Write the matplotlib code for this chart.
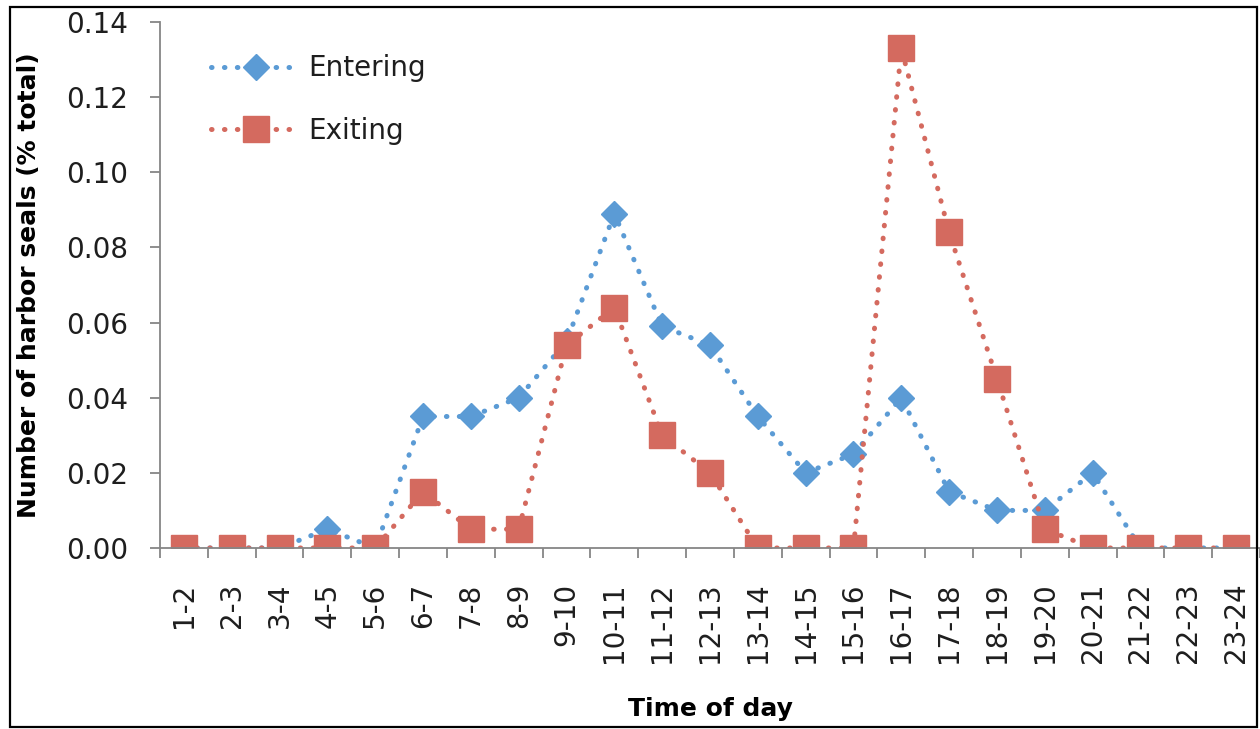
# Harbor seal haul-out activity by hour

# Plot proportion of seals entering and exiting for each hour of the day

import matplotlib
matplotlib.use("Agg")
import matplotlib.pyplot as plt
from matplotlib.patches import Rectangle

# Hour intervals
HOURS = ["1-2", "2-3", "3-4", "4-5", "5-6", "6-7", "7-8", "8-9", "9-10",
         "10-11", "11-12", "12-13", "13-14", "14-15", "15-16", "16-17",
         "17-18", "18-19", "19-20", "20-21", "21-22", "22-23", "23-24"]

# Proportion of seals entering per hour
ENTERING = [0.0, 0.0, 0.0, 0.005, 0.0, 0.035, 0.035, 0.040, 0.055,
            0.089, 0.059, 0.054, 0.035, 0.020, 0.025, 0.040,
            0.015, 0.010, 0.010, 0.020, 0.0, 0.0, 0.0]

# Proportion of seals exiting per hour
EXITING = [0.0, 0.0, 0.0, 0.0, 0.0, 0.015, 0.005, 0.005, 0.054,
           0.064, 0.030, 0.020, 0.0, 0.0, 0.0, 0.133,
           0.084, 0.045, 0.005, 0.0, 0.0, 0.0, 0.0]

BLUE = "#5B9BD5"
RED = "#D46A5F"
GRAY = "#868686"
TEXT = "#1E1E1E"
FONT = "DejaVu Sans"
LW = 3.6
# dot pattern given in points, not scaled by line width
plt.rcParams["lines.scale_dashes"] = False
DOTS = (0, (0.4, 8.9))


# Draw one series: dotted line with markers
def plot_series(ax, values, color, marker, size, label):
    xs = list(range(len(values)))
    line, = ax.plot(xs, values, color=color, linewidth=LW, linestyle=DOTS,
                    dash_capstyle="round", dash_joinstyle="round",
                    marker=marker, markersize=size, label=label)
    return line


fig = plt.figure(figsize=(12.6, 7.29), dpi=100)
ax = fig.add_axes([0.127, 0.2483, 0.873, 0.7215])

h1 = plot_series(ax, ENTERING, BLUE, "D", 13.5, "Entering")
h2 = plot_series(ax, EXITING, RED, "s", 19, "Exiting")

# Axes limits and ticks
ax.set_xlim(-0.5, len(HOURS) - 0.5)
ax.set_ylim(0, 0.14)
ax.set_yticks([0.0, 0.02, 0.04, 0.06, 0.08, 0.10, 0.12, 0.14])
ax.set_yticklabels(["%.2f" % v for v in ax.get_yticks()],
                   fontsize=20, family=FONT, color=TEXT)
ax.set_xticks(range(len(HOURS)))
ax.set_xticklabels(HOURS, rotation=90, fontsize=20, family=FONT, color=TEXT)
ax.set_xticks([i - 0.5 for i in range(len(HOURS) + 1)], minor=True)
ax.tick_params(axis="x", which="major", length=0, pad=25)
ax.tick_params(axis="x", which="minor", length=7, width=1.3, color=GRAY,
               direction="out")
ax.tick_params(axis="y", length=7, width=1.3, color=GRAY, pad=16)

for side in ["top", "right"]:
    ax.spines[side].set_visible(False)
for side in ["left", "bottom"]:
    ax.spines[side].set_color(GRAY)
    ax.spines[side].set_linewidth(1.3)

ax.set_ylabel("Number of harbor seals (% total)", fontsize=18,
              fontweight="bold", family=FONT, color="black", labelpad=18)
ax.set_xlabel("Time of day", fontsize=18, fontweight="bold", family=FONT,
              color="black", labelpad=24)

# Legend in the upper left corner
leg = ax.legend(handles=[h1, h2], loc="upper left",
                bbox_to_anchor=(0.034, 0.965), frameon=False, borderpad=0,
                handlelength=3.2, handletextpad=0.3, labelspacing=1.25,
                prop={"family": FONT, "size": 20})
for txt in leg.get_texts():
    txt.set_color(TEXT)

# Border around the whole figure
fig.patches.append(Rectangle((0.008, 0.003), 0.99, 0.987,
                             transform=fig.transFigure, fill=False,
                             edgecolor="black", linewidth=1.6))

fig.savefig("out.png", dpi=100)
